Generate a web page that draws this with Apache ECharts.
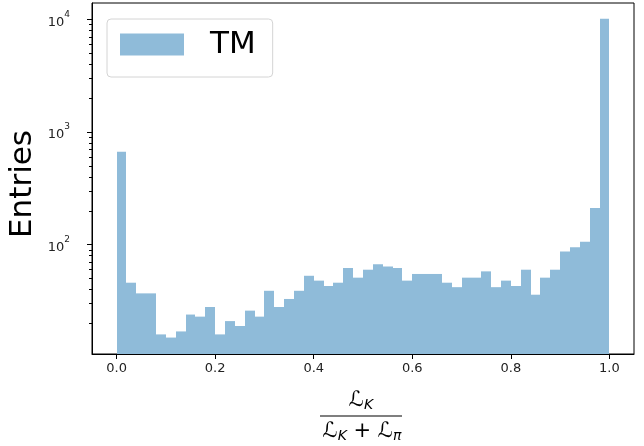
<!DOCTYPE html>
<html>
<head>
<meta charset="utf-8">
<script src="https://cdn.jsdelivr.net/npm/echarts@6/dist/echarts.min.js"></script>
<style>
html,body{margin:0;padding:0;background:#fff;}
#c{width:644px;height:446px;}
</style>
</head>
<body>
<div id="c"></div>
<script>
// ---- data ----
const binEdges = [0.00,0.02,0.04,0.06,0.08,0.10,0.12,0.14,0.16,0.18,
                  0.20,0.22,0.24,0.26,0.28,0.30,0.32,0.34,0.36,0.38,
                  0.40,0.42,0.44,0.46,0.48,0.50,0.52,0.54,0.56,0.58,
                  0.60,0.62,0.64,0.66,0.68,0.70,0.72,0.74,0.76,0.78,
                  0.80,0.82,0.84,0.86,0.88,0.90,0.92,0.94,0.96,0.98,1.00];
const counts = [668,46,37,37,16,15,17,24,23,28,
                16,21,19,26,23,39,28,33,39,53,
                48,43,46,62,51,60,67,64,62,48,
                55,55,55,46,42,51,51,58,42,48,
                43,60,36,51,60,87,95,106,212,10100];
const seriesName = 'TM';
const xTicks = [0.0,0.2,0.4,0.6,0.8,1.0];
const yMajorTicks = [100,1000,10000];
const yMinorTicks = [20,30,40,50,60,70,80,90,200,300,400,500,600,700,800,900,2000,3000,4000,5000,6000,7000,8000,9000];
const xRange = [-0.05, 1.05];
const yRange = [10.72, 13950];

const histData = counts.map((c, i) => [binEdges[i], binEdges[i + 1], c]);
const barColor = '#8fbbd9';

const chart = echarts.init(document.getElementById('c'), null, {renderer: 'canvas'});
const font = 'DejaVu Sans';
chart.setOption({
  animation: false,
  textStyle: {fontFamily: font},
  grid: {left: 92, right: 10, top: 3, bottom: 92, show: true, borderColor: '#000', borderWidth: 1, backgroundColor: 'transparent'},
  legend: {
    left: 107, top: 19,
    padding: [10, 17, 17, 13],
    backgroundColor: '#fff',
    borderColor: '#d4d4d4', borderWidth: 1, borderRadius: 4,
    itemWidth: 64, itemHeight: 22,
    icon: 'rect',
    textStyle: {fontFamily: font, fontSize: 31, color: '#000', lineHeight: 30, padding: [0, 0, 0, 21]},
    data: [seriesName]
  },
  xAxis: {
    type: 'value', min: xRange[0], max: xRange[1],
    axisLine: {show: true, onZero: false, lineStyle: {color: '#000', width: 1}},
    axisTick: {show: true, length: 5, customValues: xTicks, lineStyle: {color: '#000', width: 1}},
    axisLabel: {customValues: xTicks, fontFamily: font, fontSize: 13, color: '#222', margin: 8,
      formatter: v => v.toFixed(1)},
    splitLine: {show: false}
  },
  yAxis: [{
    type: 'log', min: yRange[0], max: yRange[1], logBase: 10,
    position: 'left',
    axisLine: {show: true, onZero: false, lineStyle: {color: '#000', width: 1}},
    axisTick: {show: true, length: 5, customValues: yMajorTicks, lineStyle: {color: '#000', width: 1}},
    axisLabel: {customValues: yMajorTicks, margin: 22, fontFamily: font, color: '#222',
      formatter: v => '{b|10}{s|' + Math.round(Math.log10(v)) + '}',
      rich: {b: {fontSize: 13, fontFamily: font, color: '#222', verticalAlign: 'bottom', padding: [6, 0, 0, 0]},
             s: {fontSize: 9, fontFamily: font, color: '#222', verticalAlign: 'top'}}},
    splitLine: {show: false}
  }, {
    type: 'log', min: yRange[0], max: yRange[1], logBase: 10,
    position: 'left', offset: 0,
    axisLine: {show: false, onZero: false},
    axisTick: {show: true, length: 3, customValues: yMinorTicks, lineStyle: {color: '#000', width: 1}},
    axisLabel: {show: false},
    splitLine: {show: false}
  }],
  series: [{
    type: 'custom',
    name: seriesName,
    itemStyle: {color: barColor},
    encode: {x: [0, 1], y: 2},
    clip: true,
    data: histData,
    renderItem: function (params, api) {
      const x0 = api.value(0), x1 = api.value(1), v = api.value(2);
      const pTop = api.coord([x0, v]);
      const pBot = api.coord([x1, yRange[0]]);
      const left = Math.round(pTop[0]), right = Math.round(pBot[0]);
      return {
        type: 'rect',
        shape: {x: left, y: pTop[1], width: right - left, height: pBot[1] - pTop[1]},
        style: {fill: barColor}
      };
    }
  }],
  graphic: [
    {type: 'text', x: 23, y: 184, rotation: Math.PI / 2,
     style: {text: 'Entries', font: '31px "DejaVu Sans"', fill: '#000', align: 'center', verticalAlign: 'middle'}},
    {type: 'text', x: 361, y: 401,
     style: {text: '{L|ℒ}{k|K}', align: 'center', verticalAlign: 'middle',
       rich: {L: {fontSize: 21, fontFamily: 'DejaVu Sans', fill: '#000', lineHeight: 22, verticalAlign: 'top'},
              k: {fontSize: 14, fontFamily: 'DejaVu Sans', fontStyle: 'italic', fill: '#000', lineHeight: 14, padding: [10, 0, 0, 0], verticalAlign: 'bottom'}}}},
    {type: 'line', shape: {x1: 320, y1: 416, x2: 402, y2: 416}, style: {stroke: '#000', lineWidth: 1.2}},
    {type: 'text', x: 362, y: 432,
     style: {text: '{L|ℒ}{k|K}{p| + }{L|ℒ}{k|π}', align: 'center', verticalAlign: 'middle',
       rich: {L: {fontSize: 21, fontFamily: 'DejaVu Sans', fill: '#000', lineHeight: 22, verticalAlign: 'top'},
              p: {fontSize: 21, fontFamily: 'DejaVu Sans', fill: '#000', lineHeight: 22, verticalAlign: 'top'},
              k: {fontSize: 14, fontFamily: 'DejaVu Sans', fontStyle: 'italic', fill: '#000', lineHeight: 14, padding: [10, 0, 0, 0], verticalAlign: 'bottom'}}}}
  ]
});
</script>
</body>
</html>
